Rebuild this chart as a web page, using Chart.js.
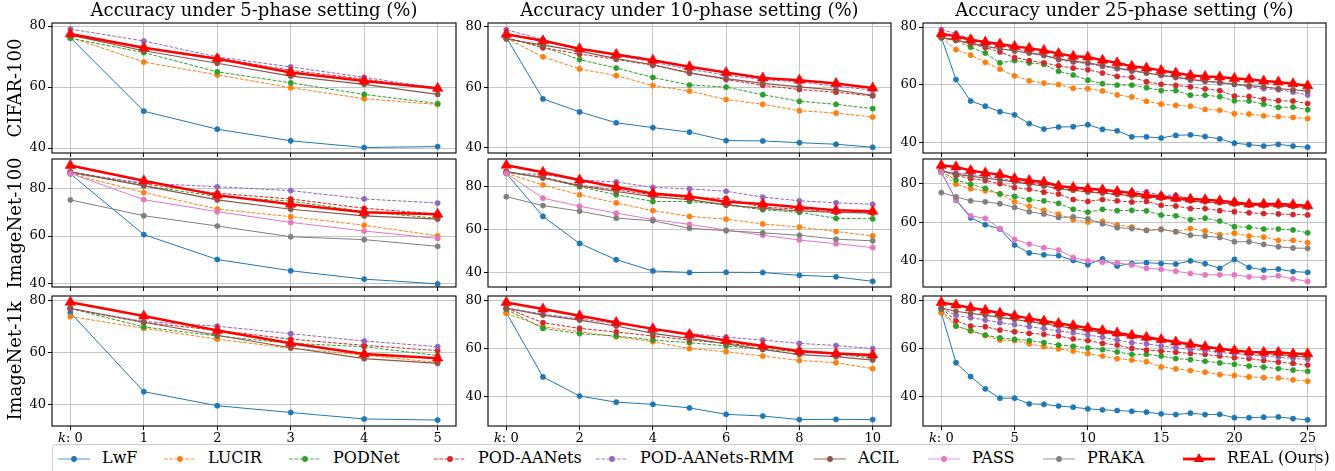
<!DOCTYPE html>
<html><head><meta charset="utf-8">
<script src="https://cdn.jsdelivr.net/npm/chart.js@4/dist/chart.umd.min.js"></script>
<style>
html,body{margin:0;padding:0;background:#fff;}
body{width:1335px;height:471px;position:relative;overflow:hidden;font-family:'DejaVu Serif',serif;color:#000;}
canvas{position:absolute;}
.title{position:absolute;top:-1px;font-size:18px;line-height:22px;text-align:center;white-space:nowrap;}
.ylab{position:absolute;font-size:18px;line-height:20px;white-space:nowrap;transform:translate(-50%,-50%) rotate(-90deg);}
#legend{position:absolute;left:52px;top:444px;width:1264px;height:30px;border:1px solid #cfcfcf;border-radius:4px;box-sizing:border-box;background:#fff;}
.lt{position:absolute;top:3px;font-size:16px;line-height:20px;white-space:nowrap;}
.lh{position:absolute;top:6px;}
</style></head><body>
<script>
// ---------- categories ----------
const METHODS = ['LwF','LUCIR','PODNet','POD-AANets','POD-AANets-RMM','ACIL','PASS','PRAKA','REAL (Ours)'];
const K5  = [0,1,2,3,4,5];
const K10 = [0,1,2,3,4,5,6,7,8,9,10];
const K25 = [0,1,2,3,4,5,6,7,8,9,10,11,12,13,14,15,16,17,18,19,20,21,22,23,24,25];
const TITLES = ['Accuracy under 5-phase setting (%)','Accuracy under 10-phase setting (%)','Accuracy under 25-phase setting (%)'];
const DATASETS = ['CIFAR-100','ImageNet-100','ImageNet-1k'];

// ---------- tick labels ----------
const X_TICKS_5  = [0,1,2,3,4,5];
const X_TICKS_10 = [0,2,4,6,8,10];
const X_TICKS_25 = [0,5,10,15,20,25];
const X_LABELS_5  = ['𝑘: 0','1','2','3','4','5'];
const X_LABELS_10 = ['𝑘: 0','2','4','6','8','10'];
const X_LABELS_25 = ['𝑘: 0','5','10','15','20','25'];
const Y_TICKS = [40,60,80];
const Y_LABELS = ['40','60','80'];

// ---------- CIFAR-100, 5 phases ----------
const c100_5_LwF   = [76.2,52.1,46.2,42.4,40.2,40.5];
const c100_5_LUCIR = [76.3,68.2,64.0,59.8,56.2,54.3];
const c100_5_PODNet= [76.0,71.3,65.0,61.4,57.6,54.6];
const c100_5_AANet = [77.0,72.8,69.5,65.5,62.6,59.3];
const c100_5_RMM   = [79.0,75.1,69.9,66.6,63.2,59.6];
const c100_5_ACIL  = [77.0,71.9,67.8,63.6,60.9,57.6];
const c100_5_REAL  = [77.4,72.9,69.3,64.8,62.0,59.6];
// ---------- CIFAR-100, 10 phases ----------
const c100_10_LwF   = [76.5,56.2,51.9,48.3,46.7,45.2,42.4,42.3,41.7,41.2,40.2];
const c100_10_LUCIR = [76.3,70.1,66.1,63.9,60.6,58.8,56.0,54.4,52.3,51.5,50.2];
const c100_10_PODNet= [76.3,73.4,69.2,66.4,63.3,60.8,60.1,57.6,55.4,54.4,53.0];
const c100_10_AANet = [76.5,73.1,71.0,69.3,67.3,64.8,62.6,60.7,59.3,58.4,57.2];
const c100_10_RMM   = [79.1,75.8,72.8,70.6,68.4,66.0,64.0,62.6,61.8,60.4,59.1];
const c100_10_ACIL  = [76.0,74.0,72.0,69.5,67.5,64.8,62.9,61.3,60.2,59.1,57.4];
const c100_10_REAL  = [77.6,75.4,72.8,70.9,69.0,66.8,64.9,63.1,62.4,61.3,59.8];
// ---------- CIFAR-100, 25 phases ----------
const c100_25_LwF   = [76.5,61.8,54.4,52.6,50.7,49.6,46.6,44.7,45.4,45.5,46.2,44.6,44.1,42.0,42.0,41.6,42.5,42.7,42.1,41.3,39.8,39.3,38.8,39.4,38.8,38.4];
const c100_25_LUCIR = [76.3,72.2,70.3,67.8,65.4,63.1,61.4,60.6,60.1,58.8,58.7,57.9,56.5,55.8,54.3,53.3,52.9,52.6,51.5,51.2,50.0,49.9,49.3,49.0,48.7,48.3];
const c100_25_PODNet= [76.3,75.4,73.0,71.0,67.6,68.4,67.6,67.1,64.7,63.4,61.6,60.4,59.9,59.9,59.0,58.0,58.0,56.4,56.4,55.9,54.5,54.4,53.3,52.2,52.3,51.4];
const c100_25_AANet = [76.5,75.6,74.2,72.9,71.4,69.4,68.4,67.6,66.6,65.8,65.2,64.1,62.9,62.6,61.1,60.2,59.8,59.3,58.6,58.0,56.1,56.0,55.0,54.5,54.4,53.5];
const c100_25_RMM   = [79.1,77.7,76.0,74.5,73.7,72.5,71.4,70.2,68.7,67.9,67.3,66.4,65.6,64.7,64.1,63.3,62.5,61.6,61.2,60.6,60.2,59.3,58.7,58.3,57.5,56.5];
const c100_25_ACIL  = [76.3,75.4,74.5,73.3,72.5,71.7,71.0,70.2,69.0,68.2,67.6,66.7,65.8,65.0,64.1,63.3,62.7,61.9,61.3,60.9,60.2,59.7,59.3,58.7,58.3,57.8];
const c100_25_REAL  = [77.7,76.8,75.6,74.8,74.1,73.3,72.7,71.9,70.8,69.9,69.6,68.5,67.6,66.4,65.8,65.0,64.1,63.3,62.9,62.7,62.2,61.9,61.3,61.0,60.4,59.7];

// ---------- ImageNet-100, 5 phases ----------
const in100_5_LwF   = [86.0,60.6,50.2,45.5,42.0,40.0];
const in100_5_LUCIR = [86.0,78.2,71.3,68.1,64.5,60.1];
const in100_5_PODNet= [86.5,81.1,76.5,74.6,70.2,67.4];
const in100_5_AANet = [86.8,81.8,77.9,75.5,71.6,69.2];
const in100_5_RMM   = [86.2,82.1,80.6,79.0,75.5,73.8];
const in100_5_ACIL  = [86.8,81.0,75.1,71.2,68.4,67.1];
const in100_5_PASS  = [86.2,75.2,70.2,65.7,62.1,59.0];
const in100_5_PRAKA = [75.1,68.5,64.2,59.7,58.5,55.7];
const in100_5_REAL  = [89.5,83.1,77.1,73.3,69.9,69.1];
// ---------- ImageNet-100, 10 phases ----------
const in100_10_LwF   = [85.9,66.1,53.6,46.1,40.9,40.2,40.3,40.2,38.9,38.2,36.1];
const in100_10_LUCIR = [86.0,80.6,76.1,72.3,68.8,66.1,64.8,62.6,61.2,59.1,57.1];
const in100_10_PODNet= [86.5,83.9,79.8,76.1,73.0,73.0,71.4,69.2,68.0,65.2,65.0];
const in100_10_AANet = [86.8,84.1,80.5,78.3,76.1,74.8,74.4,70.3,69.5,68.0,67.7];
const in100_10_RMM   = [86.0,85.5,82.9,82.0,79.5,78.8,77.7,75.0,73.3,72.4,71.7];
const in100_10_ACIL  = [86.8,83.9,80.2,77.6,75.2,73.8,71.4,69.8,68.6,68.0,67.7];
const in100_10_PASS  = [86.0,74.5,70.8,67.6,64.7,62.4,59.8,57.4,55.2,53.5,51.7];
const in100_10_PRAKA = [75.2,71.1,68.5,65.3,64.1,60.6,59.5,58.5,57.4,55.6,54.8];
const in100_10_REAL  = [89.7,86.5,82.9,79.7,76.7,75.3,72.9,71.8,70.3,68.9,68.5];
// ---------- ImageNet-100, 25 phases ----------
const in100_25_LwF   = [86.0,71.5,62.3,58.7,56.5,48.2,44.1,43.1,42.7,40.2,38.0,41.0,37.3,38.6,39.0,38.6,38.3,40.0,38.5,36.1,40.7,36.6,35.2,35.7,34.4,34.0];
const in100_25_LUCIR = [86.0,79.7,77.4,76.3,74.9,70.6,68.3,66.2,64.2,61.3,60.1,60.4,58.6,57.5,55.8,56.5,55.1,56.7,55.5,53.6,54.3,52.8,52.3,50.6,50.6,49.4];
const in100_25_PODNet= [86.5,81.9,79.7,77.6,74.6,73.4,71.7,71.1,69.8,66.7,65.2,66.7,66.0,66.2,65.9,63.7,63.3,61.4,62.1,60.6,57.7,57.4,56.5,56.5,56.0,54.5];
const in100_25_AANet = [86.8,84.3,82.6,81.7,80.0,78.0,77.1,75.6,74.6,71.8,70.8,71.8,71.1,70.5,70.8,68.8,68.4,67.1,67.1,66.0,65.5,64.9,64.5,64.3,64.0,63.8];
const in100_25_RMM   = [86.0,85.6,84.6,83.9,82.7,81.4,80.5,80.0,78.5,77.6,77.1,76.4,76.3,75.9,75.7,74.2,74.0,72.3,71.7,71.1,70.8,69.4,69.1,68.9,68.6,68.3];
const in100_25_ACIL  = [86.8,84.8,83.9,82.9,81.9,80.9,79.8,78.8,77.4,76.6,75.7,75.1,74.4,73.7,73.2,72.5,71.8,71.1,70.6,70.1,69.4,68.9,68.6,68.4,68.1,67.7];
const in100_25_PASS  = [86.0,71.7,63.3,62.0,56.7,51.1,48.7,46.8,45.6,41.7,40.0,39.3,39.0,37.8,36.1,35.6,34.6,33.4,32.7,32.7,32.7,31.7,31.3,32.2,30.6,29.3];
const in100_25_PRAKA = [75.4,73.2,71.1,70.6,69.6,67.7,65.4,64.3,62.5,62.8,61.8,59.2,57.2,56.7,55.8,56.2,55.1,53.3,52.8,52.1,49.9,49.9,48.5,47.3,46.6,46.5];
const in100_25_REAL  = [89.5,88.7,86.8,85.6,84.8,82.7,81.7,80.9,78.8,78.0,77.4,76.8,75.9,75.1,74.0,73.4,72.5,72.0,71.7,71.1,70.3,69.4,69.4,69.4,69.1,68.6];

// ---------- ImageNet-1k, 5 phases ----------
const in1k_5_LwF   = [75.5,45.1,39.7,37.1,34.6,34.2];
const in1k_5_LUCIR = [74.0,69.5,65.3,61.8,59.2,56.3];
const in1k_5_PODNet= [77.1,70.0,66.5,63.7,62.4,59.0];
const in1k_5_AANet = [77.0,71.7,68.7,65.3,62.9,60.9];
const in1k_5_RMM   = [77.0,72.1,70.3,67.4,64.6,62.4];
const in1k_5_ACIL  = [77.2,71.8,66.8,62.0,57.8,56.0];
const in1k_5_REAL  = [79.5,74.2,68.6,63.7,59.6,58.0];
// ---------- ImageNet-1k, 10 phases ----------
const in1k_10_LwF   = [75.1,48.1,40.1,37.5,36.6,35.1,32.4,31.7,30.2,30.3,30.2];
const in1k_10_LUCIR = [74.8,69.2,67.1,65.0,62.9,60.0,58.7,56.9,55.0,54.1,51.6];
const in1k_10_PODNet= [76.5,68.5,66.3,65.3,63.6,62.5,61.1,59.7,58.7,57.8,55.9];
const in1k_10_AANet = [77.0,70.9,68.5,67.0,65.3,63.6,62.2,60.8,59.2,58.0,56.6];
const in1k_10_RMM   = [77.0,74.5,72.4,70.6,68.3,66.4,64.8,63.6,62.2,61.3,60.0];
const in1k_10_ACIL  = [77.0,74.1,72.0,69.5,66.4,64.3,62.0,59.7,57.5,56.6,55.2];
const in1k_10_REAL  = [79.4,76.6,73.8,71.0,68.3,65.9,63.4,61.1,58.9,58.0,57.3];
// ---------- ImageNet-1k, 25 phases ----------
const in1k_25_LwF   = [75.1,54.1,48.3,43.1,39.2,39.2,36.8,36.6,35.9,35.4,34.7,34.3,34.0,33.7,33.3,32.6,32.3,32.9,32.3,32.4,31.0,31.0,31.2,31.3,30.6,30.1];
const in1k_25_LUCIR = [75.1,69.5,67.4,65.5,63.6,63.4,62.0,60.8,59.9,59.0,57.9,56.9,55.8,55.2,54.5,52.3,51.5,50.8,50.1,49.1,48.7,48.1,47.8,47.7,46.9,46.3];
const in1k_25_PODNet= [76.5,69.5,67.6,65.7,64.5,63.9,63.4,62.5,61.5,61.0,60.3,59.6,58.6,57.6,57.6,56.9,55.8,55.4,54.7,54.0,53.4,52.7,52.2,51.6,51.0,50.5];
const in1k_25_AANet = [77.0,71.7,69.5,69.2,67.8,67.1,66.4,66.0,65.3,64.1,63.4,62.2,61.5,60.1,59.4,59.0,58.5,58.0,57.6,56.9,56.2,55.8,55.0,54.3,53.8,53.1];
const in1k_25_RMM   = [77.0,74.0,73.0,72.0,70.9,70.1,69.2,68.4,67.4,66.7,65.7,64.8,63.6,62.5,62.0,61.1,60.4,59.7,59.2,58.3,58.0,57.3,56.9,56.4,55.9,55.5];
const in1k_25_ACIL  = [77.0,75.7,74.8,74.1,73.1,72.3,71.3,70.5,69.5,68.5,67.7,66.9,65.9,65.0,64.2,63.4,62.5,61.7,60.8,60.0,59.2,58.6,58.0,57.5,56.9,56.4];
const in1k_25_REAL  = [79.4,78.3,77.2,76.1,75.0,73.8,72.7,71.6,70.6,69.7,68.7,67.6,66.6,65.6,64.8,63.8,62.8,61.8,60.8,59.9,59.2,58.6,58.5,58.5,57.8,57.8];

// ---------- axis limits per panel [row][col] ----------
const Y_LIMITS = [
  [[38.4,81.0],[38.3,81.3],[36.4,81.4]],
  [[38.7,92.2],[33.5,92.6],[26.4,92.8]],
  [[31.9,81.9],[27.5,82.1],[27.5,82.1]]
];
const X_LIMITS = [[-0.25,5.25],[-0.5,10.5],[-1.25,26.25]];

// ---------- layout (page pixels) ----------
const COL_L = [52, 488, 923];
const COL_W = [404, 403, 403];
const ROW_T = [23, 159, 296];
const ROW_H = [130, 128, 130];
const YW = 50, PT = 14, PR = 22, XH = 24;
const LEG_TEXT_X = [102, 208, 333, 478, 640, 858, 972, 1087, 1227];

// ---------- styles ----------
const STYLES = [
  {color:'#1f77b4', dash:[],        width:1.0, point:'circle',   r:2.6},
  {color:'#ff7f0e', dash:[3.7,1.6], width:1.0, point:'circle',   r:2.6},
  {color:'#2ca02c', dash:[3.7,1.6], width:1.0, point:'circle',   r:2.6},
  {color:'#d62728', dash:[3.7,1.6], width:1.0, point:'circle',   r:2.6},
  {color:'#9467bd', dash:[3.7,1.6], width:1.0, point:'circle',   r:2.6},
  {color:'#8c564b', dash:[],        width:1.2, point:'circle',   r:2.6},
  {color:'#e377c2', dash:[],        width:1.0, point:'circle',   r:2.6},
  {color:'#7f7f7f', dash:[],        width:1.0, point:'circle',   r:2.6},
  {color:'#ff0000', dash:[],        width:2.5, point:'triangle', r:6}
];

// ---------- panel table built from the arrays ----------
const X_SETS = [
  {k:K5,  ticks:X_TICKS_5,  labels:X_LABELS_5},
  {k:K10, ticks:X_TICKS_10, labels:X_LABELS_10},
  {k:K25, ticks:X_TICKS_25, labels:X_LABELS_25}
];
const PANEL_SERIES = [
  [
    [c100_5_LwF,c100_5_LUCIR,c100_5_PODNet,c100_5_AANet,c100_5_RMM,c100_5_ACIL,null,null,c100_5_REAL],
    [c100_10_LwF,c100_10_LUCIR,c100_10_PODNet,c100_10_AANet,c100_10_RMM,c100_10_ACIL,null,null,c100_10_REAL],
    [c100_25_LwF,c100_25_LUCIR,c100_25_PODNet,c100_25_AANet,c100_25_RMM,c100_25_ACIL,null,null,c100_25_REAL]
  ],
  [
    [in100_5_LwF,in100_5_LUCIR,in100_5_PODNet,in100_5_AANet,in100_5_RMM,in100_5_ACIL,in100_5_PASS,in100_5_PRAKA,in100_5_REAL],
    [in100_10_LwF,in100_10_LUCIR,in100_10_PODNet,in100_10_AANet,in100_10_RMM,in100_10_ACIL,in100_10_PASS,in100_10_PRAKA,in100_10_REAL],
    [in100_25_LwF,in100_25_LUCIR,in100_25_PODNet,in100_25_AANet,in100_25_RMM,in100_25_ACIL,in100_25_PASS,in100_25_PRAKA,in100_25_REAL]
  ],
  [
    [in1k_5_LwF,in1k_5_LUCIR,in1k_5_PODNet,in1k_5_AANet,in1k_5_RMM,in1k_5_ACIL,null,null,in1k_5_REAL],
    [in1k_10_LwF,in1k_10_LUCIR,in1k_10_PODNet,in1k_10_AANet,in1k_10_RMM,in1k_10_ACIL,null,null,in1k_10_REAL],
    [in1k_25_LwF,in1k_25_LUCIR,in1k_25_PODNet,in1k_25_AANet,in1k_25_RMM,in1k_25_ACIL,null,null,in1k_25_REAL]
  ]
];

const FONT = "'DejaVu Serif', serif";
const framePlugin = {
  id:'frame',
  afterDraw(chart){
    const {ctx, chartArea:a} = chart;
    ctx.save();
    ctx.strokeStyle = '#000';
    ctx.lineWidth = 1.1;
    ctx.strokeRect(a.left, a.top, a.right - a.left, a.bottom - a.top);
    ctx.restore();
  }
};

function buildPanel(row, col){
  const L = COL_L[col], W = COL_W[col], T = ROW_T[row], H = ROW_H[row];
  const cw = W + YW + PR, ch = H + PT + XH;
  const cv = document.createElement('canvas');
  cv.width = cw; cv.height = ch;
  cv.style.left = (L - YW) + 'px'; cv.style.top = (T - PT) + 'px';
  cv.style.width = cw + 'px'; cv.style.height = ch + 'px';
  document.body.appendChild(cv);
  const xs = X_SETS[col];
  const datasets = [];
  PANEL_SERIES[row][col].forEach((vals, i) => {
    if (!vals) return;
    const s = STYLES[i];
    datasets.push({
      label: METHODS[i],
      data: vals.map((v, j) => ({x: xs.k[j], y: v})),
      borderColor: s.color, backgroundColor: s.color,
      borderWidth: s.width, borderDash: s.dash,
      pointStyle: s.point, pointRadius: s.r, pointBorderWidth: 0.6,
      pointBackgroundColor: s.color, pointBorderColor: s.color,
      tension: 0, order: 20 - i, clip: 6
    });
  });
  const bottom = row === 2;
  new Chart(cv, {
    type: 'line',
    data: {datasets},
    options: {
      responsive: false, animation: false, devicePixelRatio: 1,
      layout: {padding: {top: PT, right: PR, left: 0, bottom: 0}},
      plugins: {legend: {display: false}, tooltip: {enabled: false}},
      events: [],
      scales: {
        x: {
          type: 'linear', min: X_LIMITS[col][0], max: X_LIMITS[col][1],
          afterBuildTicks: s => { s.ticks = xs.ticks.map(v => ({value: v})); },
          afterFit: s => { s.height = XH; },
          ticks: {display: bottom, autoSkip: false, maxRotation: 0, padding: 1,
                  color: '#000', font: {family: FONT, size: 13},
                  callback: (v, idx) => xs.labels[idx]},
          grid: {color: '#c4c4c4', lineWidth: 1, drawTicks: true, tickLength: 4, tickColor: '#000', tickWidth: 1},
          border: {display: false}
        },
        y: {
          type: 'linear', min: Y_LIMITS[row][col][0], max: Y_LIMITS[row][col][1],
          afterBuildTicks: s => { s.ticks = Y_TICKS.map(v => ({value: v})); },
          afterFit: s => { s.width = YW; },
          ticks: {padding: 2, color: '#000', font: {family: FONT, size: 13},
                  callback: (v, idx) => Y_LABELS[idx]},
          grid: {color: '#c4c4c4', lineWidth: 1, drawTicks: true, tickLength: 4, tickColor: '#000', tickWidth: 1},
          border: {display: false}
        }
      }
    },
    plugins: [framePlugin]
  });
}

for (let r = 0; r < 3; r++) for (let c = 0; c < 3; c++) buildPanel(r, c);

// titles
TITLES.forEach((t, c) => {
  const d = document.createElement('div');
  d.className = 'title';
  d.style.left = COL_L[c] + 'px'; d.style.width = COL_W[c] + 'px';
  d.textContent = t;
  document.body.appendChild(d);
});
// row labels
DATASETS.forEach((t, r) => {
  const d = document.createElement('div');
  d.className = 'ylab';
  d.style.left = '15px'; d.style.top = (ROW_T[r] + ROW_H[r] / 2) + 'px';
  d.textContent = t;
  document.body.appendChild(d);
});
// legend
const leg = document.createElement('div');
leg.id = 'legend';
document.body.appendChild(leg);
const LEG_L = 52;
METHODS.forEach((m, i) => {
  const s = STYLES[i];
  const tx = LEG_TEXT_X[i] - LEG_L - 1;
  const hx = tx - 45;
  const ns = 'http://www.w3.org/2000/svg';
  const svg = document.createElementNS(ns, 'svg');
  svg.setAttribute('width', '34'); svg.setAttribute('height', '16');
  svg.setAttribute('class', 'lh');
  svg.style.left = hx + 'px';
  const ln = document.createElementNS(ns, 'line');
  ln.setAttribute('x1', '1'); ln.setAttribute('x2', '33');
  ln.setAttribute('y1', '8'); ln.setAttribute('y2', '8');
  ln.setAttribute('stroke', s.color);
  ln.setAttribute('stroke-width', String(s.width + 0.3));
  if (i !== 8) ln.setAttribute('stroke-opacity', '0.6');
  if (s.dash.length) ln.setAttribute('stroke-dasharray', s.dash.join(' '));
  svg.appendChild(ln);
  if (s.point === 'circle') {
    const c = document.createElementNS(ns, 'circle');
    c.setAttribute('cx', '17'); c.setAttribute('cy', '8'); c.setAttribute('r', '2.9');
    c.setAttribute('fill', s.color);
    svg.appendChild(c);
  } else {
    const p = document.createElementNS(ns, 'polygon');
    p.setAttribute('points', '17,2 22.2,11 11.8,11');
    p.setAttribute('fill', s.color);
    svg.appendChild(p);
  }
  leg.appendChild(svg);
  const sp = document.createElement('span');
  sp.className = 'lt';
  sp.style.left = tx + 'px';
  sp.textContent = m;
  leg.appendChild(sp);
});
</script>
</body></html>
